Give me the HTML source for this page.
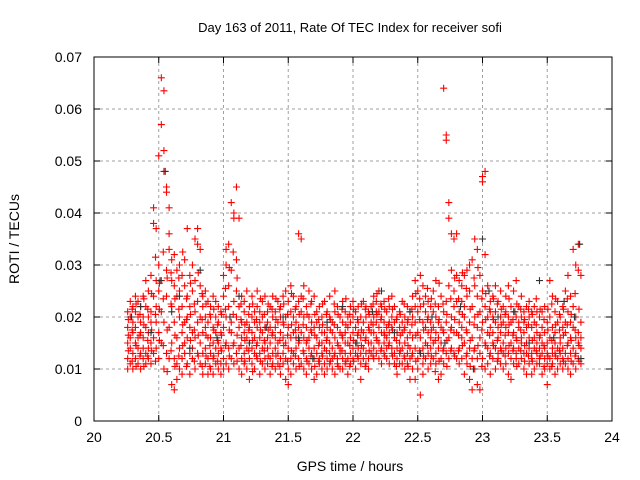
<!DOCTYPE html>
<html><head><meta charset="utf-8"><style>
body{margin:0;background:#fff;}
svg{display:block;font-family:"Liberation Sans",sans-serif;}
</style></head><body>
<svg id="chart" width="640" height="480" viewBox="0 0 640 480">
<rect width="640" height="480" fill="#fff"/>
<text x="350" y="32" font-size="13" text-anchor="middle" fill="#000">Day 163 of 2011, Rate Of TEC Index for receiver sofi</text>
<g id="grid"></g>
<g id="axes"></g>
<g id="marks"></g>
<rect x="94" y="57" width="518" height="364" fill="none" stroke="#000" stroke-width="1"/>
<text transform="translate(19,239) rotate(-90)" font-size="14" text-anchor="middle">ROTI / TECUs</text>
<text x="350" y="471" font-size="14" text-anchor="middle">GPS time / hours</text>
</svg>
<script>
const xTicks=[20,20.5,21,21.5,22,22.5,23,23.5,24];
const xTickLabels=["20","20.5","21","21.5","22","22.5","23","23.5","24"];
const yTicks=[0,0.01,0.02,0.03,0.04,0.05,0.06,0.07];
const yTickLabels=["0","0.01","0.02","0.03","0.04","0.05","0.06","0.07"];
// red series rows: [time, values in 1e-3 TECU/min ...]
const redRows=[
[20.26,18,12,15,21,10],[20.28,14,20,11,16,23],[20.30,17,13,22,10,19],[20.32,15,21,12,18,24],[20.34,11,16,20,14,23],
[20.36,19,13,17,10,22],[20.38,16,24,12,20,14],[20.40,13,18,22,11,27],[20.42,17,25,14,20,12],[20.44,21,15,28,11,19],
[20.46,38,41,16,24,13],[20.48,37,27,19,14,22],[20.50,51,25,17,12,30],[20.52,66,57,21,15,27],[20.54,63.5,52,48,19,10],
[20.56,45,44,24,13,29],[20.58,41,36,18,12,33],[20.60,27,7,15,22,31],[20.62,6,12,19,26,32],[20.64,8,24,16,29,11],
[20.66,30,14,20,10,25],[20.68,22,17,28,12,9],[20.70,13,26,19,31,15],[20.72,37,20,11,24,16],[20.74,18,28,13,22,9],
[20.76,12,30,17,25,14],[20.78,35,21,10,16,27],[20.80,37,34,19,13,23],[20.82,15,26,11,20,33],[20.84,24,17,9,22,13],
[20.86,14,20,11,25,18],[20.88,19,12,23,9,16],[20.90,16,22,13,10,20],[20.92,12,18,24,15,9],[20.94,20,14,11,17,23],
[20.96,13,19,10,22,15],[20.98,17,11,21,14,9],[21.00,12,28,18,10,24],[21.02,30,15,20,11,33],[21.04,34,22,14,26,10],
[21.06,42,19,29,12,17],[21.08,40,39,23,15,11],[21.10,45,31,13,20,25],[21.12,39,18,22,10,14],[21.14,16,24,12,19,9],
[21.16,21,13,17,11,23],[21.18,14,25,19,10,16],[21.20,18,12,22,15,8],[21.22,11,20,14,24,17],[21.24,16,13,21,10,19],
[21.26,22,15,12,18,25],[21.28,13,19,16,9,21],[21.30,17,11,23,14,20],[21.32,12,24,15,10,18],[21.34,19,14,21,16,11],
[21.36,15,22,12,18,9],[21.38,20,13,17,24,11],[21.40,14,18,10,21,16],[21.42,11,23,15,19,13],[21.44,17,12,20,9,22],
[21.46,13,16,24,11,19],[21.48,8,15,20,12,25],[21.50,7,18,23,14,10],[21.52,9,21,26,16,12],[21.54,11,24,17,13,20],
[21.56,14,19,22,10,16],[21.58,18,36,12,23,15],[21.60,35,21,11,17,24],[21.62,13,20,16,26,10],[21.64,12,18,22,15,9],
[21.66,16,25,11,20,14],[21.68,10,19,23,13,17],[21.70,14,24,12,18,8],[21.72,9,16,21,13,19],[21.74,12,18,11,15,22],
[21.76,15,10,20,13,17],[21.78,11,17,14,23,9],[21.80,18,12,16,21,10],[21.82,13,20,11,15,24],[21.84,10,14,19,12,17],
[21.86,16,21,13,9,25],[21.88,12,18,15,22,11],[21.90,14,10,20,17,13],[21.92,19,12,16,23,10],[21.94,11,17,13,21,15],
[21.96,15,20,9,18,12],[21.98,13,16,22,11,19],[22.00,17,12,20,14,23],[22.02,10,18,15,21,13],[22.04,14,22,12,17,19],
[22.06,16,11,20,13,8],[22.08,19,14,23,17,12],[22.10,13,20,16,22,11],[22.12,18,12,15,21,10],[22.14,15,22,19,13,17],
[22.16,20,14,17,24,12],[22.18,16,19,23,13,21],[22.20,18,15,21,12,25],[22.22,14,20,17,22,11],[22.24,17,13,19,15,23],
[22.26,12,21,16,18,14],[22.28,19,15,22,11,17],[22.30,13,18,20,14,24],[22.32,16,11,19,22,13],[22.34,14,20,12,17,9],
[22.36,18,13,21,15,11],[22.38,11,17,14,23,19],[22.40,15,20,12,18,10],[22.42,13,22,16,11,19],[22.44,17,12,21,14,8],
[22.46,10,16,24,13,20],[22.48,14,19,8,22,27],[22.50,12,25,10,17,21],[22.52,16,5,22,13,28],[22.54,11,19,14,26,9],
[22.56,15,21,12,18,24],[22.58,10,17,23,13,20],[22.60,14,19,11,16,22],[22.62,18,12,15,25,21],[22.64,13,20,17,11,27],
[22.66,16,8,22,14,19],[22.68,12,18,24,9,15],[22.70,64,14,21,17,11],[22.72,54,55,19,13,23],[22.74,42,39,16,26,12],
[22.76,36,29,20,14,18],[22.78,35,25,13,22,17],[22.80,36,17,23,12,28],[22.82,21,14,27,19,11],[22.84,18,26,12,16,23],
[22.86,15,22,9,20,28],[22.88,11,29,17,24,13],[22.90,8,19,25,14,30],[22.92,6,16,22,31,12],[22.94,10,35,20,14,26],
[22.96,7,33,18,12,24],[22.98,6,16,28,21,13],[23.00,46,47,19,12,25],[23.02,48,32,22,15,10],[23.04,20,14,26,11,17],
[23.06,13,23,18,9,21],[23.08,17,12,24,15,20],[23.10,14,21,10,19,26],[23.12,12,16,23,13,18],[23.14,20,11,17,25,14],
[23.16,15,22,13,19,10],[23.18,11,18,24,14,21],[23.20,17,13,20,26,9],[23.22,8,19,15,22,12],[23.24,14,21,11,17,25],
[23.26,12,16,27,20,13],[23.28,18,14,22,11,19],[23.30,15,20,12,24,16],[23.32,10,17,21,13,19],[23.34,13,22,15,9,18],
[23.36,16,11,20,14,23],[23.38,12,18,13,21,9],[23.40,14,10,19,16,22],[23.42,17,13,21,11,15],[23.44,11,16,14,20,12],
[23.46,15,9,18,13,21],[23.48,12,17,10,22,14],[23.50,7,13,19,15,11],[23.52,10,16,27,12,20],[23.54,14,11,24,18,13],
[23.56,9,17,13,21,15],[23.58,12,19,23,14,10],[23.60,16,11,15,20,13],[23.62,10,14,18,12,22],[23.64,13,17,11,25,19],
[23.66,12,15,21,28,10],[23.68,9,16,13,19,24],[23.70,14,33,11,18,22],[23.72,10,30,16,13,20],[23.74,12,29,17,34,15],
[23.76,11,14,28,19,16]
];
// additional red rows between the above samples
const redRows2=[
[20.265,13.5,19.5,16.5],[20.295,11.5,17.5,21.5],[20.325,14.5,22.5,10.5],[20.355,16.5,12.5,20.5],[20.385,18.5,10.5,23.5],
[20.415,15.5,21.5,12.5],[20.445,24.5,13.5,17.5],[20.475,20.5,31.5,11.5],[20.505,26.5,15.5,21.5],[20.535,23.5,14.5,32.5],
[20.565,27.5,17.5,9.5],[20.595,22.5,13.5,28.5],[20.625,16.5,23.5,10.5],[20.655,21.5,12.5,27.5],[20.685,18.5,32.5,14.5],
[20.715,23.5,10.5,19.5],[20.745,15.5,26.5,20.5],[20.775,11.5,22.5,17.5],[20.805,28.5,16.5,12.5],[20.835,19.5,24.5,10.5],
[20.865,16.5,12.5,22.5],[20.895,20.5,14.5,10.5],[20.925,17.5,21.5,12.5],[20.955,11.5,18.5,15.5],[20.985,20.5,13.5,16.5],
[21.015,25.5,14.5,21.5],[21.045,29.5,17.5,12.5],[21.075,32.5,20.5,14.5],[21.105,27.5,16.5,11.5],[21.135,22.5,14.5,19.5],
[21.165,18.5,11.5,15.5],[21.195,13.5,20.5,17.5],[21.225,15.5,22.5,9.5],[21.255,19.5,12.5,14.5],[21.285,17.5,23.5,11.5],
[21.315,13.5,20.5,15.5],[21.345,22.5,12.5,17.5],[21.375,16.5,10.5,21.5],[21.405,12.5,19.5,23.5],[21.435,15.5,21.5,10.5],
[21.465,18.5,14.5,22.5],[21.495,11.5,20.5,16.5],[21.525,13.5,18.5,24.5],[21.555,17.5,12.5,21.5],[21.585,20.5,15.5,10.5],
[21.615,23.5,13.5,18.5],[21.645,15.5,20.5,11.5],[21.675,12.5,22.5,17.5],[21.705,16.5,10.5,20.5],[21.735,14.5,19.5,11.5],
[21.765,18.5,12.5,22.5],[21.795,13.5,15.5,20.5],[21.825,17.5,11.5,19.5],[21.855,12.5,18.5,22.5],[21.885,14.5,20.5,10.5],
[21.915,16.5,13.5,21.5],[21.945,18.5,11.5,23.5],[21.975,14.5,20.5,10.5],[22.005,15.5,21.5,11.5],[22.035,19.5,12.5,16.5],
[22.065,17.5,22.5,14.5],[22.095,15.5,10.5,21.5],[22.125,20.5,13.5,17.5],[22.155,18.5,22.5,12.5],[22.185,15.5,20.5,24.5],
[22.215,19.5,13.5,22.5],[22.245,16.5,21.5,12.5],[22.275,14.5,18.5,23.5],[22.305,17.5,12.5,21.5],[22.335,15.5,19.5,10.5],
[22.365,13.5,20.5,16.5],[22.395,17.5,12.5,22.5],[22.425,14.5,19.5,10.5],[22.455,18.5,12.5,21.5],[22.485,16.5,24.5,11.5],
[22.515,19.5,13.5,23.5],[22.545,17.5,22.5,12.5],[22.575,14.5,25.5,19.5],[22.605,12.5,17.5,23.5],[22.635,15.5,22.5,9.5],
[22.665,19.5,11.5,26.5],[22.695,13.5,17.5,22.5],[22.725,15.5,20.5,10.5],[22.755,23.5,13.5,17.5],[22.785,19.5,27.5,12.5],
[22.815,16.5,23.5,13.5],[22.845,20.5,14.5,28.5],[22.875,17.5,25.5,12.5],[22.905,21.5,15.5,10.5],[22.935,18.5,27.5,13.5],
[22.965,20.5,14.5,29.5],[22.995,17.5,23.5,10.5],[23.025,24.5,14.5,19.5],[23.055,16.5,21.5,12.5],[23.085,19.5,14.5,23.5],
[23.115,15.5,22.5,11.5],[23.145,18.5,13.5,21.5],[23.175,16.5,20.5,12.5],[23.205,14.5,23.5,18.5],[23.235,19.5,13.5,16.5],
[23.265,15.5,22.5,10.5],[23.295,17.5,13.5,21.5],[23.325,14.5,19.5,11.5],[23.355,18.5,12.5,21.5],[23.385,15.5,20.5,11.5],
[23.415,13.5,18.5,23.5],[23.445,16.5,12.5,21.5],[23.475,14.5,19.5,10.5],[23.505,17.5,12.5,21.5],[23.535,15.5,22.5,10.5],
[23.565,18.5,12.5,23.5],[23.595,13.5,17.5,20.5],[23.625,16.5,11.5,21.5],[23.655,14.5,18.5,23.5],[23.685,11.5,20.5,15.5],
[23.715,17.5,12.5,24.5],[23.745,14.5,21.5,11.5]
];
const blackTimes=[20.29,20.36,20.44,20.51,20.55,20.60,20.66,20.74,20.82,20.95,21.05,21.12,21.20,21.33,21.46,21.58,21.69,21.80,21.92,22.03,22.15,22.22,22.32,22.44,22.52,22.61,22.71,22.83,22.93,23.00,23.05,23.12,23.25,23.36,23.44,23.55,23.63,23.71,23.75,23.76];
const blackValues=[20,22,17,27,48,21,24,14,29,16,20,24,15,18,20,16,12,19,22,15,21,25,17,21,13,20,15,22,10,35,25,20,21,15,27,16,23,20,34,12];

const NS="http://www.w3.org/2000/svg";
const X0=94,X1=612,Y0=421,Y1=57;
function xs(t){return X0+(t-20)/(24-20)*(X1-X0);}
function ys(v){return Y0-(v-0)/(0.07-0)*(Y0-Y1);}
const grid=document.getElementById('grid'),axes=document.getElementById('axes'),marks=document.getElementById('marks');
function mk(tag,attrs,parent){const e=document.createElementNS(NS,tag);for(const k in attrs)e.setAttribute(k,attrs[k]);parent.appendChild(e);return e;}
xTicks.forEach((t,i)=>{
  const x=xs(t);
  if(i>0&&i<xTicks.length-1){const g=mk('line',{x1:x,x2:x,y1:Y1,y2:Y0,stroke:'#a0a0a0','stroke-dasharray':'3,3'},grid);
  
  }
  const tk=mk('path',{d:`M${x},${Y0}v-6M${x},${Y1}v6`,stroke:'#000'},axes);
  
  
  const l=mk('text',{x:x,y:442,'font-size':'14','text-anchor':'middle',fill:'#000'},axes);l.textContent=xTickLabels[i];
  
  
});
yTicks.forEach((v,i)=>{
  const y=ys(v);
  if(i>0&&i<yTicks.length-1){const g=mk('line',{x1:X0,x2:X1,y1:y,y2:y,stroke:'#a0a0a0','stroke-dasharray':'3,3'},grid);
  
  }
  const tk=mk('path',{d:`M${X0},${y}h6M${X1},${y}h-6`,stroke:'#000'},axes);
  
  
  const l=mk('text',{x:82,y:y+5,'font-size':'14','text-anchor':'end',fill:'#000'},axes);l.textContent=yTickLabels[i];
  
  
});
function cross(t,v,color,name){
  const x=xs(t),y=ys(v/1000);
  const p=mk('path',{d:`M${x-3.5},${y}h7M${x},${y-3.5}v7`,stroke:color,'stroke-width':'1.1',fill:'none'},marks);
  
  
}
redRows.forEach(r=>{for(let j=1;j<r.length;j++)cross(r[0],r[j],'#ff0000','red-point');});
redRows2.forEach(r=>{for(let j=1;j<r.length;j++)cross(r[0],r[j],'#ff0000','red-point');});
blackTimes.forEach((t,i)=>cross(t,blackValues[i],'#333','black-point'));
</script>
</body></html>
